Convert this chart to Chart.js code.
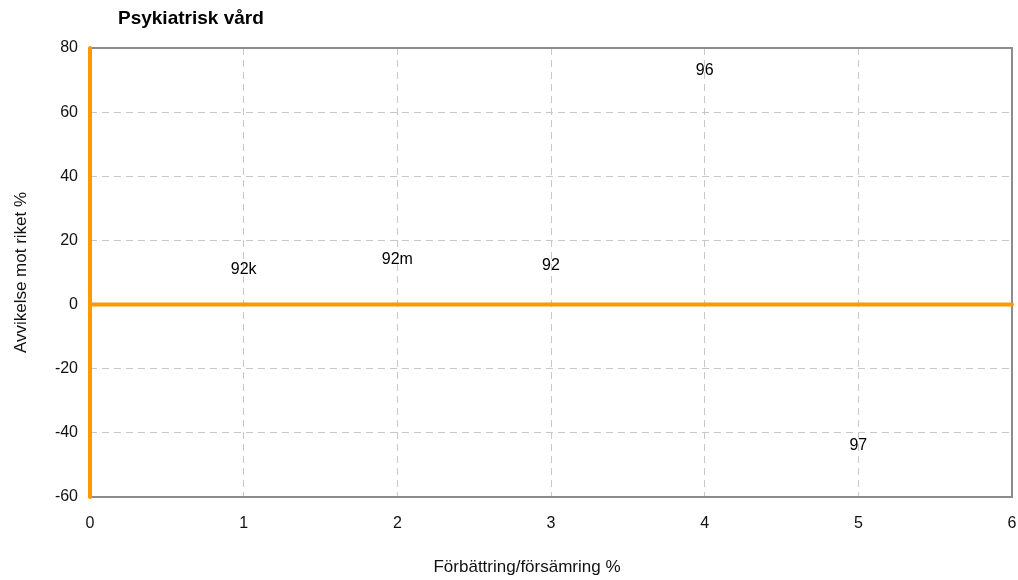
<!DOCTYPE html>
<html>
<head>
<meta charset="utf-8">
<script src="https://cdn.jsdelivr.net/npm/chart.js@4/dist/chart.umd.min.js"></script>
<style>
  html, body { margin: 0; padding: 0; background: #fff; }
  #wrap { width: 1018px; height: 580px; position: relative; }
</style>
</head>
<body>
<div id="wrap"><canvas id="c" width="1018" height="580"></canvas></div>
<script>
const chartTitle = 'Psykiatrisk vård';
const xAxisTitle = 'Förbättring/försämring %';
const yAxisTitle = 'Avvikelse mot riket %';
const categories = ['92k', '92m', '92', '96', '97'];
const xValues = [1, 2, 3, 4, 5];
const yValues = [11, 14, 12, 73, -44];
const xMin = 0, xMax = 6, xStep = 1;
const yMin = -60, yMax = 80, yStep = 20;

const FONT = "'Liberation Sans', Arial, sans-serif";
const ORANGE = '#FF9900';

const points = categories.map((c, i) => ({ x: xValues[i], y: yValues[i], label: c }));

const frameAndTitle = {
  id: 'frameAndTitle',
  beforeDatasetsDraw(chart) {
    const { ctx, chartArea: a } = chart;
    ctx.save();
    ctx.strokeStyle = '#8c8c8c';
    ctx.lineWidth = 2;
    ctx.strokeRect(a.left, a.top, a.right - a.left, a.bottom - a.top);
    ctx.restore();
  },
  afterDraw(chart) {
    const { ctx } = chart;
    ctx.save();
    ctx.fillStyle = '#000';
    ctx.font = 'bold 19px ' + FONT;
    ctx.textAlign = 'left';
    ctx.textBaseline = 'middle';
    ctx.fillText(chartTitle, 118, 19);
    ctx.fillStyle = '#111';
    ctx.font = '17px ' + FONT;
    ctx.textAlign = 'center';
    ctx.fillText(xAxisTitle, 527, 567);
    ctx.restore();
  }
};

const pointLabels = {
  id: 'pointLabels',
  afterDatasetsDraw(chart) {
    const { ctx } = chart;
    const meta = chart.getDatasetMeta(0);
    ctx.save();
    ctx.fillStyle = '#000';
    ctx.font = '16px ' + FONT;
    ctx.textAlign = 'center';
    ctx.textBaseline = 'middle';
    meta.data.forEach((el, i) => {
      ctx.fillText(chart.data.datasets[0].data[i].label, el.x, el.y);
    });
    ctx.restore();
  }
};

new Chart(document.getElementById('c'), {
  type: 'scatter',
  data: {
    datasets: [
      {
        label: 'labels',
        data: points,
        pointRadius: 0,
        pointHoverRadius: 0,
        showLine: false
      },
      {
        label: 'vAxis',
        data: [{ x: xMin, y: yMin }, { x: xMin, y: yMax }],
        showLine: true,
        borderColor: ORANGE,
        borderWidth: 4,
        borderCapStyle: 'round',
        pointRadius: 0,
        clip: false
      },
      {
        label: 'hAxis',
        data: [{ x: xMin, y: 0 }, { x: xMax, y: 0 }],
        showLine: true,
        borderColor: ORANGE,
        borderWidth: 4,
        borderCapStyle: 'round',
        pointRadius: 0,
        clip: false
      }
    ]
  },
  options: {
    responsive: false,
    animation: false,
    devicePixelRatio: 1,
    layout: { padding: { top: 48, right: 6, bottom: 0, left: 0 } },
    plugins: {
      legend: { display: false },
      tooltip: { enabled: false },
      title: { display: false }
    },
    scales: {
      x: {
        type: 'linear',
        min: xMin, max: xMax,
        ticks: { stepSize: xStep, color: '#111', font: { family: FONT, size: 16 }, padding: 17 },
        grid: { color: '#c8c8c8', lineWidth: 1, drawTicks: false },
        border: { display: false, dash: [7, 5] },
        title: { display: false, text: xAxisTitle },
        afterFit(scale) { scale.height = 83; scale.paddingLeft = 0; scale.paddingRight = 0; }
      },
      y: {
        type: 'linear',
        min: yMin, max: yMax,
        ticks: { stepSize: yStep, color: '#111', font: { family: FONT, size: 16 }, padding: 12 },
        grid: { color: '#c8c8c8', lineWidth: 1, drawTicks: false },
        border: { display: false, dash: [7, 5] },
        title: { display: true, text: yAxisTitle, color: '#111', font: { family: FONT, size: 17 }, padding: { top: 11, bottom: 0 } },
        afterFit(scale) { scale.width = 90; }
      }
    }
  },
  plugins: [frameAndTitle, pointLabels]
});
</script>
</body>
</html>
